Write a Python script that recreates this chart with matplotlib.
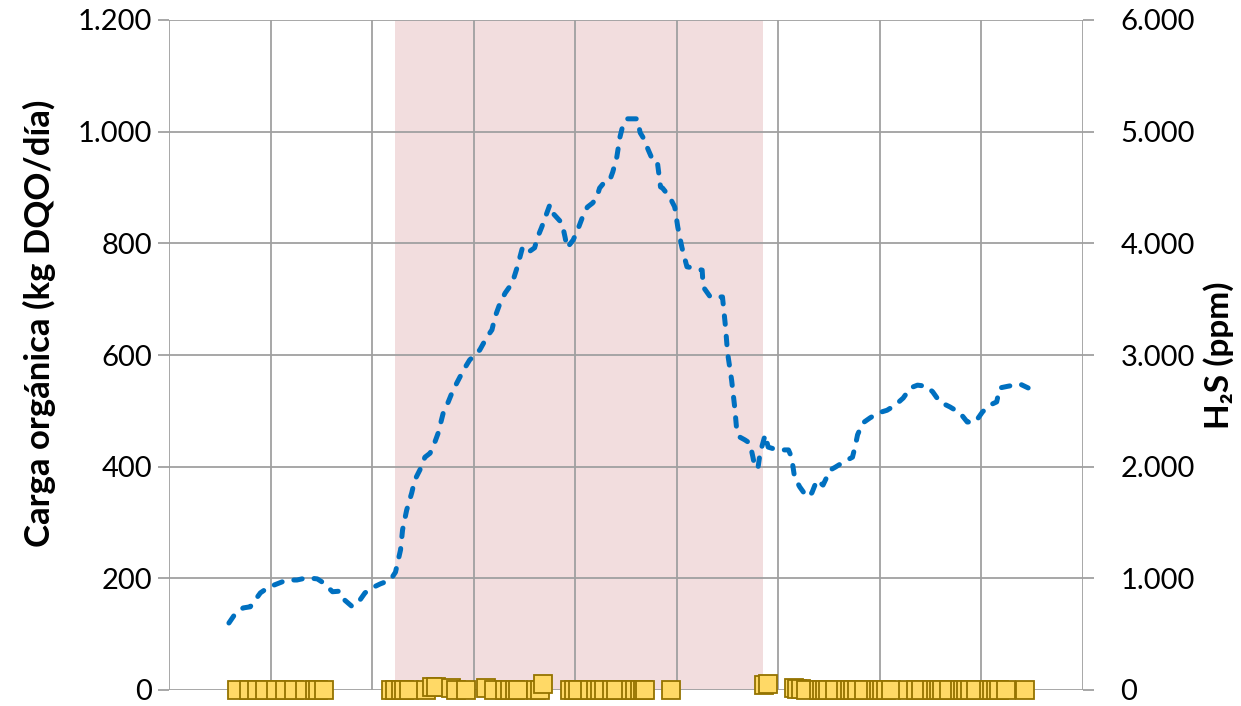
import numpy as np
import matplotlib.pyplot as plt
from matplotlib.ticker import FuncFormatter, MultipleLocator

# carga orgánica (kg DQO/día) vs día
dias = [5.9, 6.5, 7.3, 8.0, 9.0, 9.8, 10.9, 11.6, 12.6, 13.6, 14.6, 15.2, 16.1, 16.8,
        17.3, 18.0, 18.6, 19.3, 20.0, 20.8, 21.8, 22.3, 22.8, 23.0, 23.4, 23.9, 24.2,
        24.7, 25.2, 25.7, 26.0, 26.5, 27.0, 27.5, 27.9, 28.4, 29.0, 29.6, 30.1, 30.6,
        31.3, 31.8, 32.1, 32.6, 33.1, 33.8, 34.3, 34.8, 35.3, 36.0, 36.3, 36.7, 37.2,
        37.5, 37.8, 38.7, 39.0, 39.2, 39.8, 40.3, 40.8, 41.2, 41.7, 42.1, 42.4, 42.9,
        43.4, 43.7, 44.1, 44.4, 44.7, 45.1, 46.1, 46.4, 46.7, 47.2, 47.7, 48.1, 48.4,
        48.6, 49.3, 49.8, 50.1, 50.5, 51.0, 51.6, 52.5, 52.6, 53.3, 54.5, 54.8, 55.0,
        55.4, 55.7, 55.9, 56.2, 56.7, 57.2, 57.5, 57.7, 58.0, 58.2, 58.7, 59.0, 59.9,
        61.0, 61.3, 61.6, 62.1, 62.8, 63.3, 63.8, 64.4, 65.1, 65.6, 66.4, 67.3, 67.6,
        67.8, 68.3, 69.0, 69.8, 70.7, 71.5, 72.3, 73.0, 73.7, 74.6, 75.2, 75.9, 76.9,
        77.9, 78.6, 79.4, 80.1, 80.8, 81.5, 81.8, 82.6, 83.8, 84.6]
carga = [120, 136, 147, 149, 174, 184, 192, 197, 197, 201, 199, 192, 176, 177,
         161, 150, 156, 174, 183, 190, 197, 211, 251, 287, 322, 353, 376,
         394, 417, 424, 435, 460, 496, 516, 534, 552, 573, 591, 600, 609,
         632, 645, 668, 693, 711, 729, 758, 792, 783, 792, 811, 829, 854,
         869, 854, 836, 811, 792, 806, 827, 851, 865, 872, 881, 899, 910,
         913, 928, 955, 990, 1012, 1023, 1023, 998, 989, 967, 946, 944, 901,
         899, 883, 865, 829, 793, 758, 756, 752, 722, 704, 704, 650, 604,
         555, 507, 466, 453, 448, 442, 417, 398, 398, 424, 457, 435, 430,
         430, 417, 381, 364, 346, 353, 376, 367, 394, 399, 408, 417, 439,
         457, 478, 487, 496, 501, 510, 523, 541, 546, 544, 534, 516, 507,
         496, 480, 480, 498, 510, 516, 541, 544, 548, 541]

# H2S (ppm) vs día
dias_h2s = [6.7, 7.9, 8.7, 9.5, 10.5, 11.4, 12.3, 13.4, 14.4, 14.7, 15.3,
            21.9, 22.3, 22.8, 23.1, 23.6, 25.3, 25.9, 26.3, 27.8, 28.3, 29.2,
            31.2, 32.0, 33.1, 33.6, 34.1, 34.4, 36.1, 36.5, 36.8,
            39.5, 39.9, 40.3, 41.5, 42.0, 42.4, 42.8, 43.6, 44.0, 45.5, 45.9,
            46.4, 46.7, 46.9, 49.4, 58.6, 59.0,
            61.5, 61.8, 62.2, 62.7, 64.0, 64.3, 64.6, 64.9, 65.6, 66.7, 67.1,
            67.4, 67.7, 68.4, 69.6, 69.9, 70.2, 70.6, 71.1, 72.8, 73.6, 74.0,
            75.1, 75.5, 75.8, 76.1, 76.8, 77.9, 78.2, 78.5, 78.9, 79.5, 80.7,
            81.0, 81.4, 81.7, 82.4, 84.3]
h2s = [0, 0, 0, 0, 0, 0, 0, 0, 0, 0, 0,
       0, 0, 0, 0, 0, 0, 25, 25, 15, 0, 0,
       15, 0, 0, 0, 0, 0, 0, 0, 50,
       0, 0, 0, 0, 0, 0, 0, 0, 0, 0, 0,
       0, 0, 0, 0, 45, 50,
       15, 10, 5, 0, 0, 0, 0, 0, 0, 0, 0,
       0, 0, 0, 0, 0, 0, 0, 0, 0, 0, 0,
       0, 0, 0, 0, 0, 0, 0, 0, 0, 0, 0,
       0, 0, 0, 0, 0]

periodo = (22.25, 58.5)

fuente = ['Lato', 'DejaVu Sans']
plt.rcParams['font.family'] = fuente
gris = '#A0A0A0'


def miles(v, pos):
    return f"{int(round(v)):,}".replace(',', '.')


fig = plt.figure(figsize=(12.41, 7.06), dpi=100)
ax = fig.add_axes([169 / 1241, 1 - 690 / 706, 914 / 1241, 670 / 706])
ax2 = ax.twinx()

ax.axvspan(*periodo, color='#F2DDDE', zorder=0.2, lw=0)
ax.plot(dias, carga, color='#0070C0', lw=3.6, ls=(0, (1.7, 2.4)),
        dash_capstyle='round', zorder=3)

ax2.plot(dias_h2s, h2s, ls='none', marker='s', ms=13.5,
         mfc='#FFD966', mec='#947300', mew=1.3, clip_on=False, zorder=4)

ax.set_xlim(0, 90)
ax.set_ylim(0, 1200)
ax2.set_ylim(0, 6000)
ax.xaxis.set_major_locator(MultipleLocator(10))
ax.yaxis.set_major_locator(MultipleLocator(200))
ax2.yaxis.set_major_locator(MultipleLocator(1000))
ax.yaxis.set_major_formatter(FuncFormatter(miles))
ax2.yaxis.set_major_formatter(FuncFormatter(miles))

ax.set_axisbelow(True)
ax.grid(True, color=gris, lw=1.3)
for a in (ax, ax2):
    for s in a.spines.values():
        s.set_visible(False)
ax.tick_params(axis='x', length=0, labelbottom=False)
ax.tick_params(axis='y', length=8, width=1.3, color=gris, labelsize=21, pad=4)
ax2.tick_params(axis='y', length=8, width=1.3, color=gris, labelsize=21, pad=19)

ax.set_ylabel('Carga orgánica (kg DQO/día)', fontsize=25, fontweight='bold',
              labelpad=16)
ax.yaxis.label.set_y(0.548)
ax2.set_ylabel('H₂S (ppm)', fontsize=24, fontweight='bold', labelpad=6)

fig.savefig('out.png', dpi=100)
